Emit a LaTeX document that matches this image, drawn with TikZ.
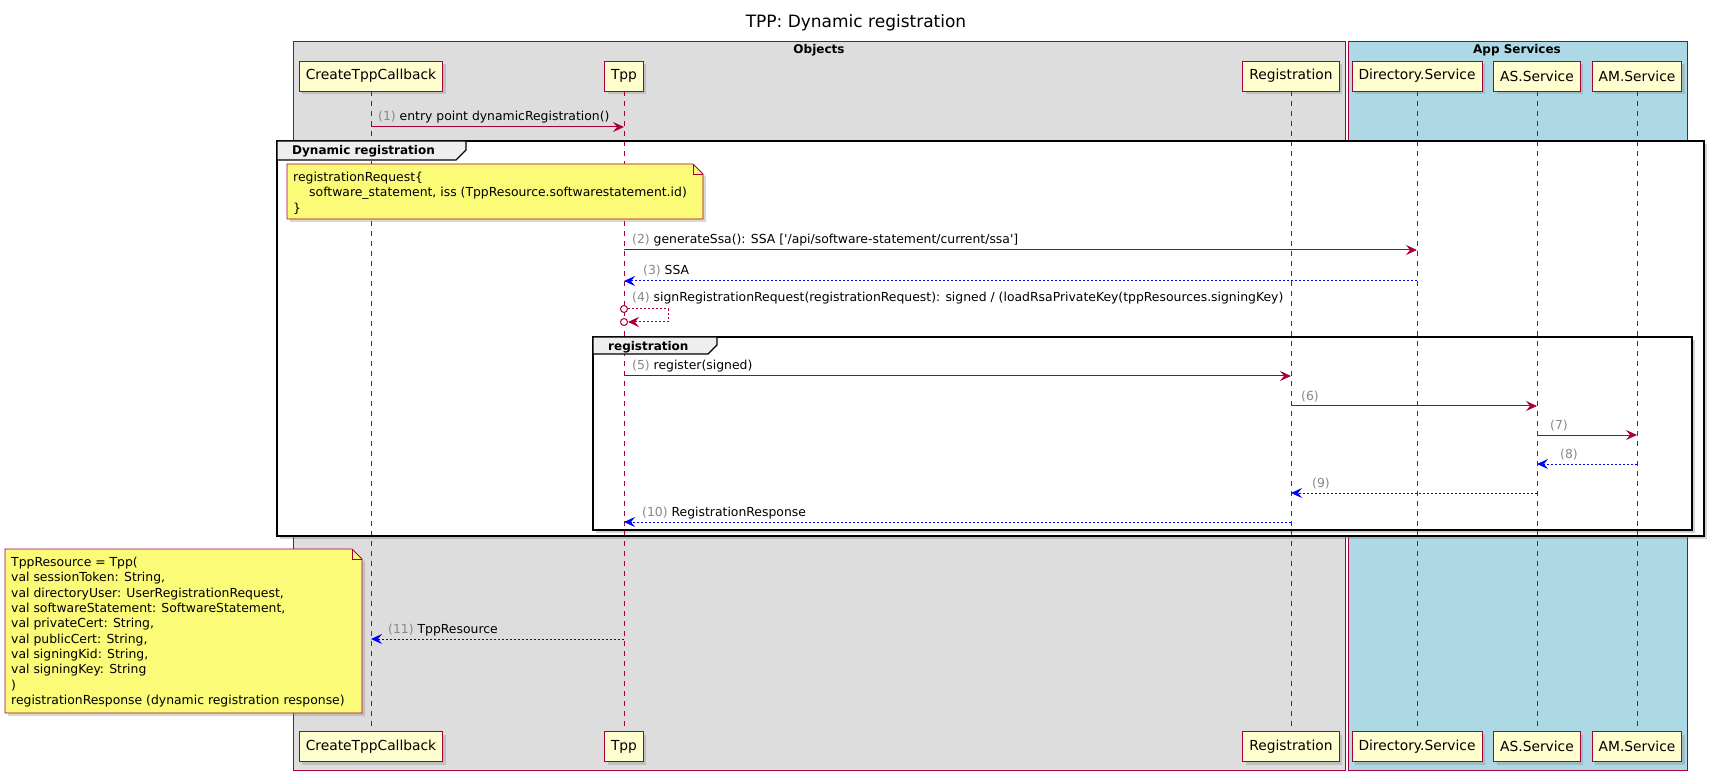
\documentclass[tikz,border=0pt]{standalone}
\usepackage{fontspec}
\setmainfont{DejaVu Sans}
\usetikzlibrary{arrows.meta,shadows}
\definecolor{umlred}{HTML}{A80036}
\definecolor{partfill}{HTML}{FEFECE}
\definecolor{notefill}{HTML}{FBFB77}
\definecolor{objfill}{HTML}{DDDDDD}
\definecolor{appfill}{HTML}{ADD8E6}
\definecolor{tabfill}{HTML}{EEEEEE}
\definecolor{numgray}{HTML}{888888}
\newcommand{\seqno}[1]{\textcolor{numgray}{#1}}

\begin{document}
\begin{tikzpicture}[x=1pt,y=-1pt,
  part/.style={draw=umlred,fill=partfill,line width=0.9pt,minimum height=30pt,inner xsep=6.5pt,
    font=\fontsize{13.8}{16}\selectfont,drop shadow={shadow xshift=3pt,shadow yshift=-3pt,opacity=0.3}},
  life/.style={umlred,line width=0.8pt,dash pattern=on 5pt off 5pt},
  call/.style={umlred,line width=1pt,-{Stealth[length=11pt,width=10pt,inset=4pt]}},
  ret/.style={blue,line width=1pt,dash pattern=on 2pt off 2pt,-{Stealth[length=11pt,width=10pt,inset=4pt]}},
  selfret/.style={umlred,line width=1pt,dash pattern=on 2pt off 2pt,-{Stealth[length=11pt,width=10pt,inset=4pt]}},
  lbl/.style={anchor=base west,inner sep=0pt,font=\fontsize{12.4}{15}\selectfont},
  box/.style={draw=umlred,line width=1pt},
  grp/.style={draw=black,line width=2pt},
  grpfill/.style={fill=white,drop shadow={shadow xshift=3pt,shadow yshift=-3pt,opacity=0.35}},
  tab/.style={draw=black,line width=1.2pt,fill=tabfill},
  grplbl/.style={inner sep=0pt,font=\fontsize{12}{14}\selectfont\bfseries},
  note/.style={draw=umlred,line width=0.9pt,fill=notefill,drop shadow={shadow xshift=3pt,shadow yshift=-3pt,opacity=0.3}},
  notetxt/.style={anchor=north west,inner sep=0pt,align=left,font=\fontsize{12.4}{15.3}\selectfont},
  ring/.style={circle,draw=umlred,line width=1pt,fill=white,inner sep=0pt,minimum size=7pt}]
\useasboundingbox (0,0) rectangle (1716,775);

\node[anchor=base,font=\fontsize{17}{20}\selectfont] (title) at (856,28) {TPP: Dynamic registration};

% boxes
\draw[box,fill=objfill] (293,42) rectangle (1345,770);
\draw[box,fill=appfill] (1348,42) rectangle (1687,770);
\node[grplbl,anchor=base] (objs) at (819,54) {Objects};
\node[grplbl,anchor=base] (apps) at (1517,54) {App Services};

\fill[grpfill] (277,141) rectangle (1704,536);
\fill[grpfill] (593,337) rectangle (1692,530);

% participants
\node[part] (p1) at (371,76) {CreateTppCallback};
\node[part] (p2) at (624,76) {Tpp};
\node[part] (p3) at (1291,76) {Registration};
\node[part] (p4) at (1417,76) {Directory.Service};
\node[part] (p5) at (1537,76) {AS.Service};
\node[part] (p6) at (1637,76) {AM.Service};
\node[part] (b1) at (371,746.5) {CreateTppCallback};
\node[part] (b2) at (624,746.5) {Tpp};
\node[part] (b3) at (1291,746.5) {Registration};
\node[part] (b4) at (1417,746.5) {Directory.Service};
\node[part] (b5) at (1537,746.5) {AS.Service};
\node[part] (b6) at (1637,746.5) {AM.Service};
\foreach \i in {1,...,6}
  \draw[life] (p\i.south) -- (b\i.north);

% groups
\draw[grp] (277,141) rectangle (1704,536);
\draw[tab] (277,141) -- (466,141) -- (466,150) -- (456,160) -- (277,160) -- cycle;
\node[grplbl,anchor=base west] (g1) at (292,155) {Dynamic registration};
\draw[grp] (593,337) rectangle (1692,530);
\draw[tab] (593,337) -- (717,337) -- (717,345) -- (708,354) -- (593,354) -- cycle;
\node[grplbl,anchor=base west] (g2) at (608,351) {registration};

% notes
\draw[note] (287,164) -- (693,164) -- (703,174) -- (703,219) -- (287,219) -- cycle;
\draw[umlred,line width=0.9pt] (693,164) -- (693,174) -- (703,174);
\node[notetxt] (n1) at (293,172) {registrationRequest\{\\\hspace*{16pt}software\_statement, iss (TppResource.softwarestatement.id)\\\}};
\draw[note] (5,549) -- (352,549) -- (362,559) -- (362,713) -- (5,713) -- cycle;
\draw[umlred,line width=0.9pt] (352,549) -- (352,559) -- (362,559);
\node[notetxt] (n2) at (11,557) {TppResource = Tpp(\\val sessionToken: String,\\val directoryUser: UserRegistrationRequest,\\val softwareStatement: SoftwareStatement,\\val privateCert: String,\\val publicCert: String,\\val signingKid: String,\\val signingKey: String\\)\\registrationResponse (dynamic registration response)};

% messages
\draw[call] (p1 |- 0,127) -- (p2 |- 0,127);
\node[lbl] (m1) at (378,121) {\seqno{(1)} entry point dynamicRegistration()};
\draw[call] (p2 |- 0,250) -- (p4 |- 0,250);
\node[lbl] (m2) at (632,244) {\seqno{(2)} generateSsa(): SSA [\textquotesingle/api/software-statement/current/ssa\textquotesingle]};
\draw[ret] (p4 |- 0,281) -- (p2 |- 0,281);
\node[lbl] (m3) at (643,275) {\seqno{(3)} SSA};
\node[lbl] (m4) at (632,302) {\seqno{(4)} signRegistrationRequest(registrationRequest): signed / (loadRsaPrivateKey(tppResources.signingKey)};
\node[ring] (o1) at (p2 |- 0,309) {};
\node[ring] (o2) at (p2 |- 0,322) {};
\draw[selfret] (o1.east) -- ++(40,0) |- (o2.east);
\draw[call] (p2 |- 0,376) -- (p3 |- 0,376);
\node[lbl] (m5) at (632,370) {\seqno{(5)} register(signed)};
\draw[call] (p3 |- 0,406) -- (p5 |- 0,406);
\node[lbl] (m6) at (1301,400) {\seqno{(6)}};
\draw[call] (p5 |- 0,435) -- (p6 |- 0,435);
\node[lbl] (m7) at (1550,429) {\seqno{(7)}};
\draw[ret] (p6 |- 0,464) -- (p5 |- 0,464);
\node[lbl] (m8) at (1560,458) {\seqno{(8)}};
\draw[ret] (p5 |- 0,493) -- (p3 |- 0,493);
\node[lbl] (m9) at (1312,487) {\seqno{(9)}};
\draw[ret] (p3 |- 0,522) -- (p2 |- 0,522);
\node[lbl] (m10) at (642,516) {\seqno{(10)} RegistrationResponse};
\draw[ret] (p2 |- 0,639) -- (p1 |- 0,639);
\node[lbl] (m11) at (388,633) {\seqno{(11)} TppResource};
\end{tikzpicture}
\end{document}
